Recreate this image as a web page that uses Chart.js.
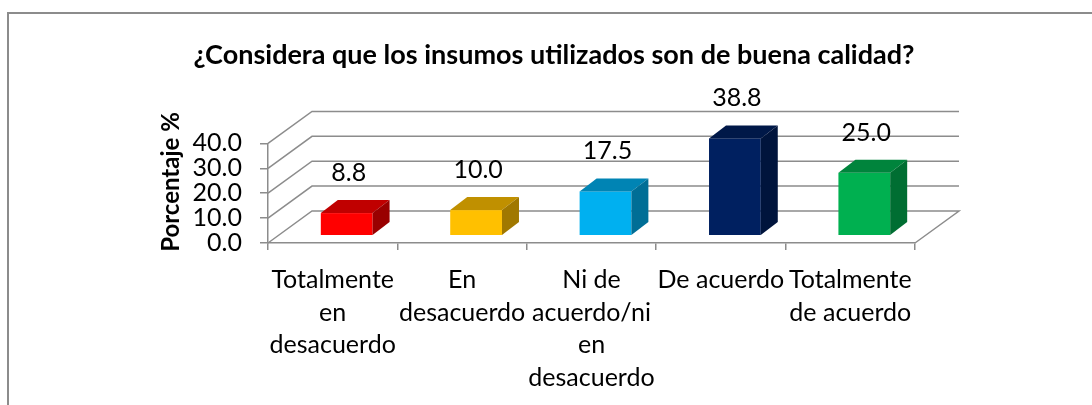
<!DOCTYPE html>
<html>
<head>
<meta charset="utf-8">
<script src="https://cdn.jsdelivr.net/npm/chart.js@4.4.1/dist/chart.umd.min.js"></script>
<style>
  html, body { margin: 0; padding: 0; background: #fff; }
  #wrap { position: relative; width: 1092px; height: 405px; overflow: hidden; }
  #frame { position: absolute; left: 7px; top: 12px; width: 1200px; height: 500px;
           border-left: 2px solid #8c8c8c; border-top: 2px solid #8c8c8c; }
  canvas { position: absolute; left: 0; top: 0; }
</style>
</head>
<body>
<div id="wrap">
  <div id="frame"></div>
  <canvas id="myChart" width="1092" height="405"></canvas>
</div>
<script>
const chartTitle = '¿Considera que los insumos utilizados son de buena calidad?';
const yTitle = 'Porcentaje %';
const categories = [
  ['Totalmente', 'en', 'desacuerdo'],
  ['En', 'desacuerdo'],
  ['Ni de', 'acuerdo/ni', 'en', 'desacuerdo'],
  ['De acuerdo'],
  ['Totalmente', 'de acuerdo']
];
const percentages = [8.8, 10.0, 17.5, 38.8, 25.0];
const yTicks = [0, 10, 20, 30, 40];

const frontColors = ['#ff0000', '#ffc000', '#00b0f0', '#002060', '#00b050'];
const topColors = ['#c00000', '#c09000', '#0084b4', '#001848', '#00843c'];
const sideColors = ['#990000', '#a07800', '#006e96', '#00143c', '#006e32'];

const FONT = 'Lato, "Noto Sans", sans-serif';
const GRID = '#8c8c8c';
// 3d offsets (pixels)
const wallDepth = {x: 44, y: -32};
const barFront = {x: 14, y: -8};
const barDepth = {x: 17, y: -13};

const bars3d = {
  id: 'bars3d',
  beforeDatasetsDraw(chart) {
    const {ctx, chartArea: a, scales: {y}} = chart;
    ctx.save();
    ctx.strokeStyle = GRID;
    ctx.lineWidth = 1.5;
    yTicks.forEach(v => {
      const py = y.getPixelForValue(v);
      ctx.beginPath();
      ctx.moveTo(a.left, py);
      ctx.lineTo(a.left + wallDepth.x, py + wallDepth.y);
      ctx.lineTo(a.right + wallDepth.x, py + wallDepth.y);
      if (v === 0) ctx.lineTo(a.right, py);
      ctx.stroke();
    });
    // y axis title
    ctx.fillStyle = '#000';
    ctx.font = 'bold 24px ' + FONT;
    ctx.textAlign = 'center';
    ctx.textBaseline = 'middle';
    ctx.translate(171, 182);
    ctx.rotate(-Math.PI / 2);
    ctx.fillText(yTitle, 0, 0);
    ctx.restore();
  },
  afterDatasetsDraw(chart) {
    const {ctx, scales: {y}} = chart;
    const meta = chart.getDatasetMeta(0);
    const base = y.getPixelForValue(0) + barFront.y;
    ctx.save();
    meta.data.forEach((el, i) => {
      const w = el.width;
      const x1 = el.x - w / 2 + barFront.x;
      const x2 = x1 + w;
      const yt = el.y + barFront.y;
      // front face
      ctx.fillStyle = frontColors[i];
      ctx.fillRect(x1, yt, w, base - yt);
      // top face
      ctx.fillStyle = topColors[i];
      ctx.beginPath();
      ctx.moveTo(x1, yt);
      ctx.lineTo(x2, yt);
      ctx.lineTo(x2 + barDepth.x, yt + barDepth.y);
      ctx.lineTo(x1 + barDepth.x, yt + barDepth.y);
      ctx.closePath();
      ctx.fill();
      // side face
      ctx.fillStyle = sideColors[i];
      ctx.beginPath();
      ctx.moveTo(x2, yt);
      ctx.lineTo(x2 + barDepth.x, yt + barDepth.y);
      ctx.lineTo(x2 + barDepth.x, base + barDepth.y);
      ctx.lineTo(x2, base);
      ctx.closePath();
      ctx.fill();
      // value label
      ctx.fillStyle = '#000';
      ctx.font = '25px ' + FONT;
      ctx.textAlign = 'center';
      ctx.textBaseline = 'middle';
      ctx.fillText(percentages[i].toFixed(1), x1 + w / 2 + 2, yt - 40);
    });
    ctx.restore();
  }
};

let ctx = document.getElementById('myChart').getContext('2d');
let myChart = new Chart(ctx, {
  type: 'bar',
  data: {
    labels: categories,
    datasets: [{
      label: 'Porcentaje',
      data: percentages,
      backgroundColor: 'rgba(0,0,0,0)',
      categoryPercentage: 1,
      barPercentage: 0.4
    }]
  },
  options: {
    responsive: false,
    animation: false,
    layout: {padding: {left: 16, right: 0, top: 0, bottom: 0}},
    plugins: {
      legend: {display: false},
      tooltip: {enabled: false},
      title: {
        display: true,
        text: chartTitle,
        color: '#000',
        font: {family: FONT, size: 27, weight: 'bold', lineHeight: 1.2},
        padding: {top: 39, bottom: 72}
      }
    },
    scales: {
      x: {
        offset: true,
        grid: {display: true, offset: true, drawOnChartArea: false, drawTicks: true,
               tickLength: 7, color: GRID, lineWidth: 1.5},
        border: {display: true, color: GRID, width: 1.5},
        ticks: {color: '#000', font: {family: FONT, size: 25, lineHeight: 1.3},
                padding: 14, maxRotation: 0, autoSkip: false},
        afterFit(s) { s.height = 162; }
      },
      y: {
        min: 0,
        max: 40,
        grid: {display: true, drawOnChartArea: false, drawTicks: true,
               tickLength: 8, color: GRID, lineWidth: 1.5},
        border: {display: true, color: GRID, width: 1.5},
        ticks: {stepSize: 10, autoSkip: false, color: '#000', font: {family: FONT, size: 25},
                padding: 18, callback: v => v.toFixed(1)},
        afterFit(s) { s.width = 252; }
      },
      yRight: {
        position: 'right',
        min: 0,
        max: 40,
        grid: {display: false},
        border: {display: false},
        ticks: {display: false},
        afterFit(s) { s.width = 177; }
      }
    }
  },
  plugins: [bars3d]
});
</script>
</body>
</html>
